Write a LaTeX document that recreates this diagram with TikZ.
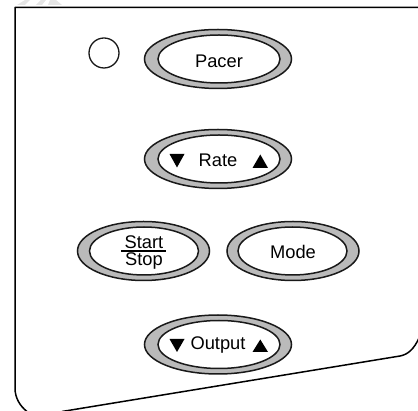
\documentclass[tikz,border=0pt]{standalone}
\usepackage{fontspec}
\setmainfont{Liberation Sans}
\usetikzlibrary{shapes.geometric}
\tikzset{
  outeroval/.style={ellipse,draw=black!90,line width=1.5pt,fill=black!27,inner sep=0pt,outer sep=0pt},
  inneroval/.style={ellipse,draw=black!90,line width=1.5pt,fill=white,inner sep=0pt,outer sep=0pt},
  bigoval/.style={outeroval,minimum width=147pt,minimum height=59pt},
  biginner/.style={inneroval,minimum width=122pt,minimum height=48pt},
  midoval/.style={outeroval,minimum width=132pt,minimum height=59pt},
  midinner/.style={inneroval,minimum width=109pt,minimum height=48pt},
  btnlabel/.style={font=\fontsize{18.3}{18.3}\selectfont,text=black,inner sep=0pt},
  tri/.style={fill=black},
  panel/.style={draw=black,line width=1.5pt,line join=round},
  wmark/.style={fill=black!10}
}
\begin{document}
\begin{tikzpicture}[x=1pt,y=-1pt]
\useasboundingbox (0,0) rectangle (418,411);
\clip (0,0) rectangle (418,411);
% faint watermark remains along the top edge
\fill[wmark] (17,5) -- (25,0) -- (30,0) -- (25,5) -- cycle;
\fill[wmark] (36,5) -- (41,0) -- (46,0) -- (42,5) -- cycle;
\fill[wmark] (48,5) -- (50,0) -- (56,0) -- (62,5) -- cycle;
% panel outline
\draw[panel] (425,7.5) -- (15,7.5) -- (15,388)
  .. controls (15,398) and (20,406) .. (27,411.5);
\draw[panel] (62,411.5) -- (400,356) .. controls (408,354.5) and (414,349) .. (419,338);
% lamp
\node[draw=black!90,line width=1.3pt,circle,minimum size=30pt,inner sep=0pt] (lamp) at (104,53) {};
% Pacer
\node[bigoval] (pacerO) at (218,59) {};
\node[biginner] (pacerI) at (219,59) {};
\node[btnlabel] (pacerT) at (219,61) {Pacer};
% Rate
\node[bigoval] (rateO) at (218,159) {};
\node[biginner] (rateI) at (219,159) {};
\node[btnlabel] (rateT) at (218,160.5) {Rate};
\fill[tri] (169.5,154) -- (184.5,154) -- (177,167.5) -- cycle;
\fill[tri] (252.5,168) -- (268,168) -- (260.3,154.5) -- cycle;
% Start/Stop
\node[midoval] (startO) at (143.5,251) {};
\node[midinner] (startI) at (144,251) {};
\node[btnlabel] (startT) at (144,242) {Start};
\node[btnlabel] (stopT) at (144,261.5) {Stop};
\draw[line width=1.3pt,draw=black] (121,251) -- (166,251);
% Mode
\node[midoval] (modeO) at (293,251) {};
\node[midinner] (modeI) at (292.5,251) {};
\node[btnlabel] (modeT) at (293,252) {Mode};
% Output
\node[bigoval] (outO) at (218,344.5) {};
\node[biginner] (outI) at (219,344.5) {};
\node[btnlabel] (outT) at (218,345.5) {Output};
\fill[tri] (169.5,339) -- (184.5,339) -- (177,352) -- cycle;
\fill[tri] (252.5,352) -- (268,352) -- (260.3,339.5) -- cycle;
\end{tikzpicture}
\end{document}
